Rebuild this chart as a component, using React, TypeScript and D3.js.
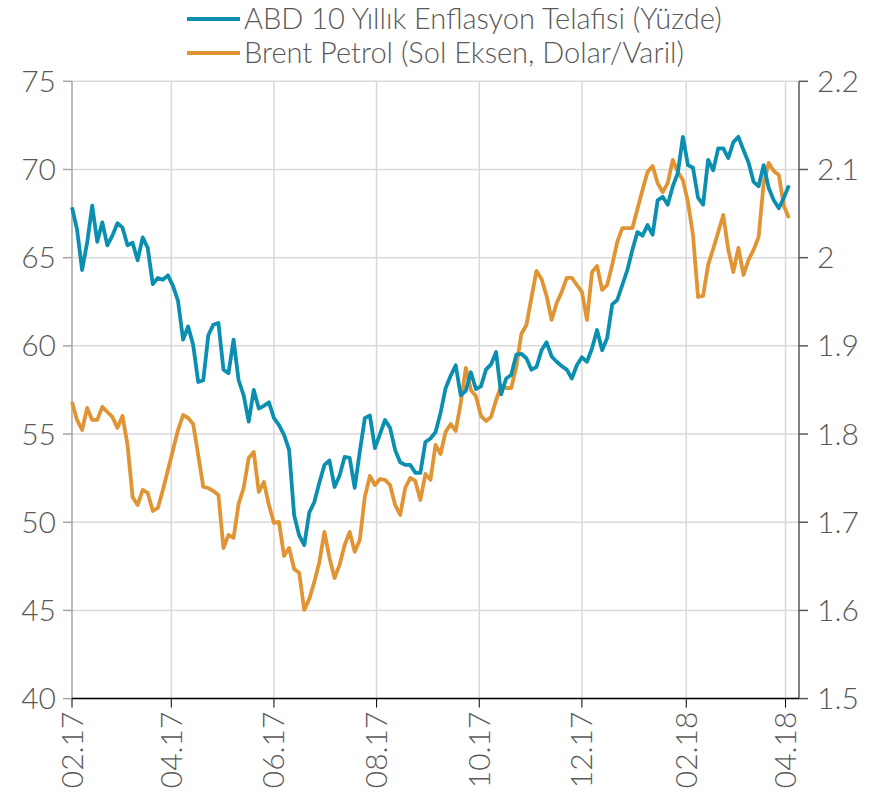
import React from 'react';
import * as d3 from 'd3';

// Series sampled every 3 days starting from 01.02.2017
const START_DATE = '2017-02-01';
const STEP_DAYS = 3;

// Brent petrol, USD/barrel (left axis)
const brent = [
  56.82, 55.80, 55.23, 56.48, 55.80, 55.80, 56.54, 56.25, 55.97, 55.35,
  56.03, 54.38, 51.43, 50.98, 51.83, 51.66, 50.64, 50.81, 51.83, 52.96,
  54.10, 55.23, 56.08, 55.91, 55.57, 53.81, 52.00, 51.94, 51.77, 51.55,
  48.54, 49.28, 49.11, 51.04, 51.94, 53.64, 53.98, 51.72, 52.28, 50.98,
  49.96, 50.02, 48.09, 48.54, 47.35, 47.13, 45.03, 45.65, 46.62, 47.75,
  49.45, 47.98, 46.84, 47.58, 48.71, 49.45, 48.32, 49.00, 51.43, 52.62,
  52.11, 52.45, 52.40, 52.11, 50.98, 50.41, 51.94, 52.51, 52.34, 51.26,
  52.74, 52.40, 54.38, 53.87, 55.12, 55.57, 55.18, 56.76, 58.75, 57.50,
  57.16, 56.03, 55.74, 55.97, 56.93, 57.73, 57.61, 57.61, 58.80, 60.67,
  61.18, 62.72, 64.25, 63.79, 62.83, 61.47, 62.43, 63.06, 63.85, 63.85,
  63.45, 63.06, 61.47, 64.19, 64.53, 63.17, 63.45, 64.59, 65.89, 66.68,
  66.68, 66.68, 67.76, 68.84, 69.86, 70.20, 69.23, 68.72, 69.23, 70.54,
  69.86, 69.40, 68.16, 66.29, 62.77, 62.83, 64.59, 65.49, 66.46, 67.42,
  65.44, 64.19, 65.55, 64.02, 64.87, 65.44, 66.17, 69.23, 70.37, 69.91,
  69.69, 67.93, 67.25
];

// US 10-year breakeven inflation, percent (right axis)
const breakeven = [
  2.057, 2.032, 1.986, 2.017, 2.059, 2.018, 2.040, 2.014, 2.025, 2.039,
  2.034, 2.014, 2.017, 1.997, 2.023, 2.011, 1.970, 1.977, 1.975, 1.980,
  1.968, 1.951, 1.907, 1.922, 1.901, 1.859, 1.861, 1.912, 1.924, 1.926,
  1.873, 1.869, 1.907, 1.861, 1.844, 1.814, 1.850, 1.829, 1.832, 1.836,
  1.818, 1.810, 1.799, 1.782, 1.708, 1.685, 1.674, 1.711, 1.723, 1.745,
  1.765, 1.770, 1.740, 1.753, 1.774, 1.773, 1.739, 1.780, 1.818, 1.821,
  1.784, 1.800, 1.816, 1.807, 1.782, 1.768, 1.765, 1.765, 1.756, 1.756,
  1.791, 1.795, 1.802, 1.824, 1.852, 1.866, 1.878, 1.844, 1.849, 1.870,
  1.851, 1.854, 1.873, 1.879, 1.893, 1.845, 1.863, 1.867, 1.890, 1.891,
  1.886, 1.873, 1.876, 1.895, 1.904, 1.888, 1.882, 1.877, 1.873, 1.863,
  1.878, 1.887, 1.882, 1.897, 1.918, 1.895, 1.909, 1.947, 1.952, 1.969,
  1.986, 2.009, 2.029, 2.025, 2.037, 2.026, 2.065, 2.069, 2.060, 2.081,
  2.096, 2.137, 2.105, 2.102, 2.068, 2.060, 2.111, 2.099, 2.124, 2.124,
  2.113, 2.131, 2.137, 2.122, 2.108, 2.086, 2.081, 2.105, 2.079, 2.065,
  2.056, 2.068, 2.082
];

const leftTicks = [40, 45, 50, 55, 60, 65, 70, 75];
const rightTicks = [1.5, 1.6, 1.7, 1.8, 1.9, 2.0, 2.1, 2.2];
const monthTicks = [
  '2017-02-01', '2017-04-01', '2017-06-01', '2017-08-01',
  '2017-10-01', '2017-12-01', '2018-02-01', '2018-04-01'
];
const legendLabels = [
  'ABD 10 Yıllık Enflasyon Telafisi (Yüzde)',
  'Brent Petrol (Sol Eksen, Dolar/Varil)'
];

const BLUE = '#0b8fb0';
const ORANGE = '#e09433';
const TEXT = '#595959';
const GRID = '#d9d9d9';
const FONT = 'Lato, "Open Sans", sans-serif';
const TICK_FS = 30;
const LEGEND_FS = 29;

const W = 870;
const H = 797;
const plot = { left: 72, right: 799, top: 81.3, bottom: 698.6 };

export default function App() {
  const parse = d3.timeParse('%Y-%m-%d');
  const start = parse(START_DATE)!;
  const dates = brent.map((_, i) => d3.timeDay.offset(start, i * STEP_DAYS));

  const x = d3.scaleTime()
    .domain([start, parse('2018-04-09')!])
    .range([plot.left, plot.right]);
  const yLeft = d3.scaleLinear().domain([40, 75]).range([plot.bottom, plot.top]);
  const yRight = d3.scaleLinear().domain([1.5, 2.2]).range([plot.bottom, plot.top]);

  const brentLine = d3.line<number>()
    .x((_, i) => x(dates[i]))
    .y(d => yLeft(d));
  const beLine = d3.line<number>()
    .x((_, i) => x(dates[i]))
    .y(d => yRight(d));

  const months = monthTicks.map(m => parse(m)!);
  const fmtMonth = d3.timeFormat('%m.%y');
  const fmtRight = (d: number) => String(+d.toFixed(1));

  return (
    <svg width={W} height={H} style={{ position: 'absolute', left: 0, top: 0 }}
      fontFamily={FONT} fontWeight={300}>
      <rect width={W} height={H} fill="#fff" />

      {/* horizontal grid */}
      {leftTicks.map(t => (
        <line key={'h' + t} x1={plot.left} x2={plot.right} y1={yLeft(t)} y2={yLeft(t)}
          stroke={GRID} strokeWidth={1.5} />
      ))}
      {/* vertical grid */}
      {months.slice(1).map(m => (
        <line key={'v' + m.getTime()} x1={x(m)} x2={x(m)} y1={plot.top} y2={plot.bottom}
          stroke={GRID} strokeWidth={1.5} />
      ))}

      {/* left axis */}
      <line x1={plot.left} x2={plot.left} y1={plot.top} y2={plot.bottom} stroke="#a6a6a6" strokeWidth={1.5} />
      {leftTicks.map(t => (
        <g key={'l' + t}>
          <line x1={plot.left - 9} x2={plot.left} y1={yLeft(t)} y2={yLeft(t)} stroke="#a6a6a6" strokeWidth={1.5} />
          <text x={plot.left - 16} y={yLeft(t)} dy="0.35em" textAnchor="end" fontSize={TICK_FS} fill={TEXT}>{t}</text>
        </g>
      ))}

      {/* right axis */}
      <line x1={plot.right} x2={plot.right} y1={plot.top} y2={plot.bottom} stroke="#595959" strokeWidth={1.5} />
      {rightTicks.map(t => (
        <g key={'r' + t}>
          <line x1={plot.right} x2={plot.right + 9} y1={yRight(t)} y2={yRight(t)} stroke="#595959" strokeWidth={1.5} />
          <text x={plot.right + 18} y={yRight(t)} dy="0.35em" textAnchor="start" fontSize={TICK_FS} fill={TEXT}>{fmtRight(t)}</text>
        </g>
      ))}

      {/* bottom axis */}
      <line x1={plot.left} x2={plot.right} y1={plot.bottom} y2={plot.bottom} stroke="#000" strokeWidth={1.5} />
      {months.map(m => (
        <g key={'b' + m.getTime()}>
          <line x1={x(m)} x2={x(m)} y1={plot.bottom} y2={plot.bottom + 9} stroke="#000" strokeWidth={1} />
          <text transform={`translate(${x(m)},${plot.bottom + 13}) rotate(-90)`} dy="0.35em"
            textAnchor="end" fontSize={TICK_FS} fill={TEXT}>{fmtMonth(m)}</text>
        </g>
      ))}

      {/* series */}
      <path d={brentLine(brent)!} fill="none" stroke={ORANGE} strokeWidth={3.8} strokeLinejoin="round" />
      <path d={beLine(breakeven)!} fill="none" stroke={BLUE} strokeWidth={3.8} strokeLinejoin="round" />

      {/* legend */}
      {legendLabels.map((lab, i) => {
        const ly = 19 + i * 34;
        return (
          <g key={lab}>
            <line x1={187} x2={240} y1={ly} y2={ly} stroke={i === 0 ? BLUE : ORANGE} strokeWidth={4} />
            <text x={244} y={ly} dy="0.35em" fontSize={LEGEND_FS} fill={TEXT}>{lab}</text>
          </g>
        );
      })}
    </svg>
  );
}
